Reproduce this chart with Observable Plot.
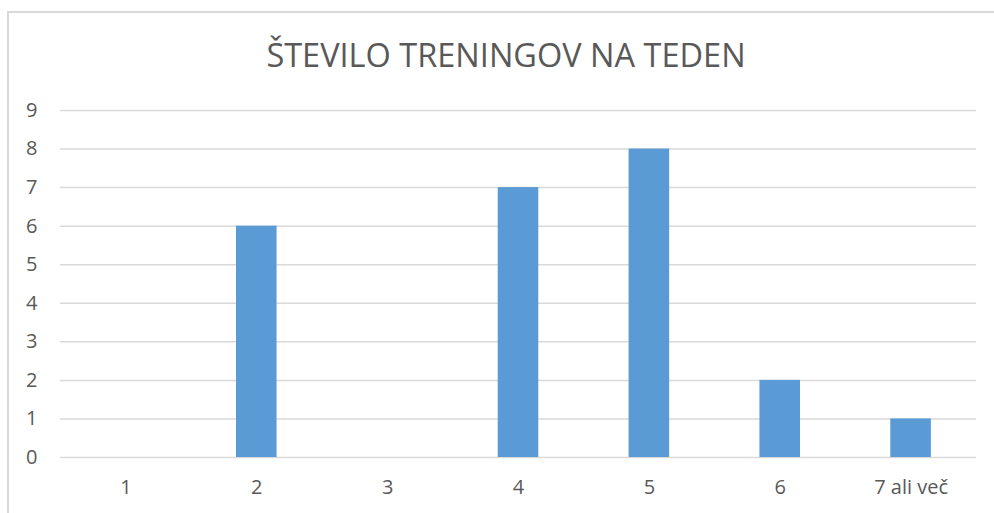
<!DOCTYPE html>
<html>
<head>
<meta charset="utf-8">
<script src="https://cdn.jsdelivr.net/npm/d3@7"></script>
<script src="https://cdn.jsdelivr.net/npm/@observablehq/plot@0.6"></script>
<style>
  html, body { margin: 0; padding: 0; background: #fff; }
  #wrap { position: relative; width: 994px; height: 513px; overflow: hidden; font-family: "Open Sans", sans-serif; }
  #frame { position: absolute; left: 7px; top: 11px; width: 1000px; height: 600px;
           border-left: 2px solid #d9d9d9; border-top: 2px solid #d9d9d9; box-sizing: border-box; }
  #title { position: relative; height: 90px; text-align: center; color: #595959;
           font-size: 32.5px; line-height: 1; box-sizing: border-box; }
  #title span { position: absolute; left: 0; right: 0; top: 39px; padding-left: 18px; }
  #chart { position: relative; }
  #chart svg text { font-size: 20px; font-family: "Open Sans", sans-serif; }
</style>
</head>
<body>
<div id="wrap">
  <div id="frame"></div>
  <div id="title"><span>ŠTEVILO TRENINGOV NA TEDEN</span></div>
  <div id="chart"></div>
</div>
<script>
const categories = ["1", "2", "3", "4", "5", "6", "7 ali več"];
const values = [0, 6, 0, 7, 8, 2, 1];
const yTicks = [0, 1, 2, 3, 4, 5, 6, 7, 8, 9];

const data = categories.map((c, i) => ({ category: c, value: values[i] }));

const chart = Plot.plot({
  width: 994,
  height: 423,
  marginLeft: 60,
  marginRight: 18,
  marginTop: 20,
  marginBottom: 56,
  style: { fontFamily: "Open Sans, sans-serif", fontSize: "20px", color: "#595959", background: "transparent" },
  x: { domain: categories, paddingInner: 0.69, paddingOuter: 0.345, round: false, label: null },
  y: { domain: [0, 9], label: null },
  marks: [
    Plot.ruleY(yTicks, { stroke: "#d9d9d9", strokeWidth: 1.5 }),
    Plot.barY(data, { x: "category", y: "value", fill: "#5b9bd5" }),
    Plot.axisX({ tickSize: 0, tickPadding: 22, fill: "#595959", fontSize: 20, label: null }),
    Plot.axisY({ ticks: yTicks, tickSize: 0, tickPadding: 23, fill: "#595959", fontSize: 20, label: null, tickFormat: d => String(d) })
  ]
});
document.getElementById("chart").appendChild(chart);
</script>
</body>
</html>
